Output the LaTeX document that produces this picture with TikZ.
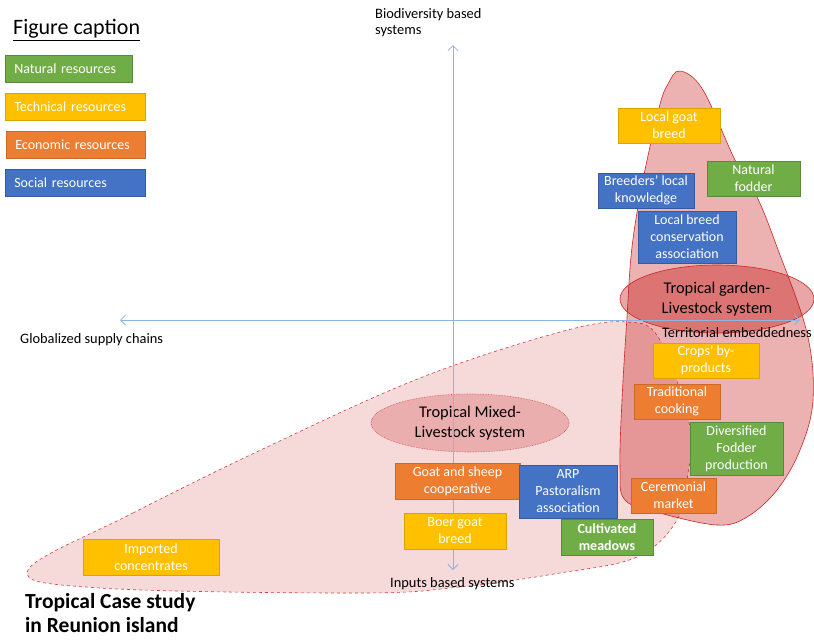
\documentclass[tikz,border=0pt]{standalone}
\usepackage{fontspec}
\setmainfont{Carlito}
\usetikzlibrary{positioning,shapes.geometric,arrows.meta}
\definecolor{natgreen}{HTML}{70AD47}
\definecolor{techyellow}{HTML}{FFC000}
\definecolor{ecoorange}{HTML}{ED7D31}
\definecolor{socblue}{HTML}{4472C4}
\definecolor{axisblue}{HTML}{8EB4E3}
\definecolor{zonered}{HTML}{C00000}

\begin{document}
\begin{tikzpicture}[x=1pt,y=-1pt,
	resbox/.style={rectangle, line width=0.6pt, text=white, align=center, inner sep=0pt,
		font=\fontsize{14}{17}\selectfont},
	natural/.style={resbox, fill=natgreen, draw=natgreen!80!black},
	technical/.style={resbox, fill=techyellow, draw=techyellow!85!black},
	economic/.style={resbox, fill=ecoorange, draw=ecoorange!85!black},
	social/.style={resbox, fill=socblue, draw=socblue!80!black},
	legend/.style={anchor=west, text width=#1, inner xsep=9pt, minimum height=27pt, align=left},
	axislabel/.style={font=\fontsize{14.4}{16}\selectfont, inner sep=0pt, align=left},
	syszone/.style={ellipse, inner sep=0pt, font=\fontsize{16.4}{20}\selectfont, align=center}]
	\useasboundingbox (0,0) rectangle (814,641);

	% system zones
	\draw[zonered!75, dashed, line width=0.6pt, fill=zonered, fill opacity=0.15]
		plot[smooth cycle, tension=0.6] coordinates {(28,570) (133,513) (267,447) (420,378)
		(560,332) (627,322) (660,340) (690,427) (688,473) (677,520) (637,557) (560,573)
		(460,587) (360,593) (100,588)};
	\draw[zonered!85, line width=0.6pt, fill=zonered, fill opacity=0.3]
		plot[smooth cycle, tension=0.6] coordinates {(680,71) (703,90) (735,160) (757,197)
		(777,247) (807,333) (813,400) (800,450) (777,490) (747,517) (717,525) (660,513)
		(625,500) (620,467) (622,400) (627,317) (632,247) (643,180) (659,108) (668,84)};
	\node[syszone, draw=zonered!85, line width=0.6pt, fill=zonered, fill opacity=0.35, text opacity=1,
		minimum width=194pt, minimum height=68pt] (garden) at (717,299) {Tropical garden-\\Livestock system};
	\node[syszone, draw=zonered!70, densely dotted, line width=0.6pt, fill=zonered, fill opacity=0.2, text opacity=1,
		minimum width=198pt, minimum height=58pt] (mixed) at (470,423) {Tropical Mixed-\\Livestock system};

	% axes
	\coordinate (biotop) at (453,45);
	\coordinate (inpbot) at (453,570);
	\coordinate (glolft) at (120,320);
	\coordinate (terrgt) at (800,320);
	\draw[axisblue, line width=0.8pt, {Straight Barb[length=5pt,width=10pt]}-{Straight Barb[length=5pt,width=10pt]}]
		(biotop) -- (inpbot);
	\draw[axisblue, line width=0.8pt, {Straight Barb[length=5pt,width=10pt]}-{Straight Barb[length=5pt,width=10pt]}]
		(glolft) -- (terrgt);
	\node[axislabel, anchor=north west] (bio) at (375,8) {Biodiversity based\\systems};
	\node[axislabel, anchor=west] (glo) at (20,340) {Globalized supply chains};
	\node[axislabel, anchor=west] (terr) at (662,333) {Territorial embeddedness};
	\node[axislabel, anchor=west] (inp) at (390,584) {Inputs based systems};

	% caption
	\node[anchor=west, inner sep=0pt, font=\fontsize{22}{26}\selectfont] (cap) at (13,30) {\underline{Figure caption}};
	\node[natural, legend=109pt] (lnat) at (5,68.5) {Natural resources};
	\node[technical, legend=122pt] (ltech) at (5,106.5) {Technical resources};
	\node[economic, legend=121pt] (leco) at (6,144.5) {Economic resources};
	\node[social, legend=122pt] (lsoc) at (5,182.5) {Social resources};

	% resources
	\node[technical, minimum width=102pt, minimum height=35pt] (goatbreed) at (669,125.5) {Local goat\\breed};
	\node[natural, minimum width=93pt, minimum height=35pt] (fodder) at (753.5,178.5) {Natural\\fodder};
	\node[social, minimum width=96pt, minimum height=35pt] (knowledge) at (646,190.5) {Breeders' local\\knowledge};
	\node[social, minimum width=98pt, minimum height=52pt] (conserv) at (687,237) {Local breed\\conservation\\association};
	\node[technical, minimum width=106pt, minimum height=35pt] (crops) at (706,360.5) {Crops' by-\\products};
	\node[economic, minimum width=86pt, minimum height=35pt] (cooking) at (677,401.5) {Traditional\\cooking};
	\node[natural, minimum width=93pt, minimum height=53pt] (divers) at (736.5,448.5) {Diversified\\Fodder\\production};
	\node[economic, minimum width=85pt, minimum height=35pt] (market) at (673.5,495.5) {Ceremonial\\market};
	\node[economic, minimum width=125pt, minimum height=36pt] (coop) at (457.5,481) {Goat and sheep\\cooperative};
	\node[social, minimum width=98pt, minimum height=53pt] (arp) at (568,491.5) {ARP\\Pastoralism\\association};
	\node[natural, minimum width=92pt, minimum height=36pt, font=\fontsize{14}{17}\selectfont\bfseries] (meadows) at (607,537) {Cultivated\\meadows};
	\node[technical, minimum width=102pt, minimum height=36pt] (boer) at (455,531) {Boer goat\\breed};
	\node[technical, minimum width=136pt, minimum height=36pt] (imported) at (151,557) {Imported\\concentrates};

	\node[anchor=north west, inner sep=0pt, align=left, font=\fontsize{21.5}{24}\selectfont\bfseries] (case) at (25,593)
		{Tropical Case study\\in Reunion island};
\end{tikzpicture}
\end{document}
